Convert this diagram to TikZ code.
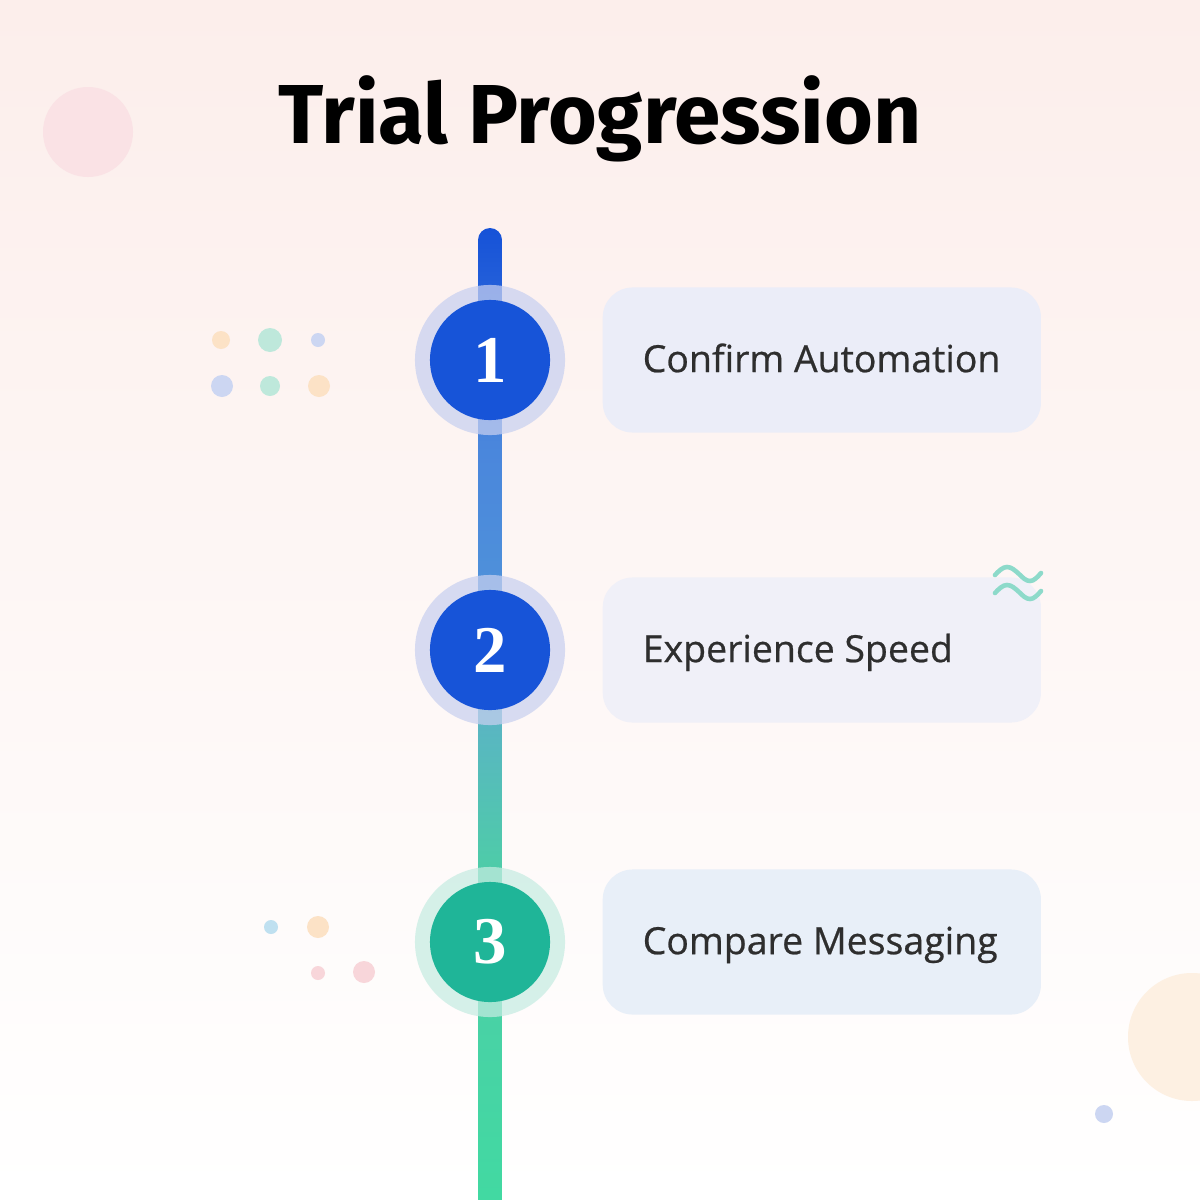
\documentclass[tikz,border=0pt]{standalone}
\usepackage{fontspec}
\newfontfamily\titlefont{Fira Sans}
\newfontfamily\cardfont{Open Sans}[FakeBold=0.6]
\newfontfamily\numfont{Liberation Serif}
\usetikzlibrary{positioning}
\definecolor{bgpink}{HTML}{FCEEEB}
\definecolor{stepblue}{HTML}{1754D8}
\definecolor{stepteal}{HTML}{1FB598}
\definecolor{haloblue}{HTML}{C8D0F0}
\definecolor{haloteal}{HTML}{C6ECE2}
\definecolor{cardA}{HTML}{EBEDF8}
\definecolor{cardB}{HTML}{F0F0F8}
\definecolor{cardC}{HTML}{E8EFF8}
\definecolor{textgray}{HTML}{2E2E2E}
\definecolor{dotpeach}{HTML}{FCE2C6}
\definecolor{dotmint}{HTML}{BEE8DB}
\definecolor{dotlav}{HTML}{CCD6F2}
\definecolor{dotblue}{HTML}{BFE0F0}
\definecolor{dotpink}{HTML}{F8D6DA}
\definecolor{wavecol}{HTML}{8DDACA}
\definecolor{trackA}{HTML}{42D9A2}
\definecolor{trackB}{HTML}{4ECCA8}
\definecolor{trackC}{HTML}{5AB4C4}
\definecolor{trackD}{HTML}{4E90DA}
\definecolor{trackE}{HTML}{4A86DC}
\definecolor{trackF}{HTML}{3470DA}
\definecolor{trackG}{HTML}{1652D8}
\pgfdeclareverticalshading{trackshade}{100bp}{color(0bp)=(trackA); color(25bp)=(trackA); color(42bp)=(trackB);
  color(50bp)=(trackC); color(57bp)=(trackD); color(64bp)=(trackE); color(68bp)=(trackF); color(75bp)=(trackG);
  color(100bp)=(trackG)}
\begin{document}
\begin{tikzpicture}[x=.01cm,y=-.01cm,
  halo/.style={circle,minimum size=1.5cm,inner sep=0pt,fill=#1,fill opacity=.72},
  stepdot/.style={circle,minimum size=1.2cm,inner sep=0pt,fill=#1,text=white,font=\numfont\bfseries\fontsize{19}{19}\selectfont},
  card/.style={anchor=west,rounded corners=.3cm,fill=#1,minimum width=4.38cm,minimum height=1.45cm,inner sep=0pt},
  cardtext/.style={anchor=west,inner sep=0pt,text height=1.9ex,text depth=.3ex,text=textgray,font=\cardfont\fontsize{10.65}{12}\selectfont},
  wave/.style={wavecol,line width=1.3pt,line cap=round}]
  \useasboundingbox (0,0) rectangle (1200,1200);
  \shade[top color=bgpink,middle color=bgpink!60!white,bottom color=white] (0,0) rectangle (1200,1200);
  % soft blobs and dots
  \fill[dotpink!70!white] (88,132) circle (45);
  \fill[dotpeach!50!white] (1192,1037) circle (64);
  \fill[dotlav] (1104,1114) circle (9);
  \fill[dotpeach] (221,340) circle (9); \fill[dotmint] (270,340) circle (12); \fill[dotlav] (318,340) circle (7);
  \fill[dotlav] (222,386) circle (11); \fill[dotmint] (270,386) circle (10); \fill[dotpeach] (319,386) circle (11);
  \fill[dotblue] (271,927) circle (7); \fill[dotpeach] (318,927) circle (11);
  \fill[dotpink] (318,973) circle (7); \fill[dotpink] (364,972) circle (11);
  \node[font=\titlefont\bfseries\fontsize{23.8}{26}\selectfont,anchor=base] (title) at (600,143) {Trial Progression};
  % track
  \coordinate (tracktop) at (490,228); \coordinate (trackend) at (490,1200);
  \shade[shading=trackshade] (478,1200) -- (478,240) arc (180:360:12) -- (502,1200) -- cycle;
  \foreach \n/\y/\c in {1/360/blue,2/650/blue,3/942/teal}{
    \node[halo=halo\c] (h\n) at (490,\y) {};
    \node[stepdot=step\c] (s\n) at (490,\y) {\n};
  }
  \node[card=cardA] (c1) at (602,360) {};
  \node[card=cardB] (c2) at (602,650) {};
  \node[card=cardC] (c3) at (602,942) {};
  \node[cardtext,right=.4cm of c1.west] (t1) {Confirm Automation};
  \node[cardtext,right=.4cm of c2.west] (t2) {Experience Speed};
  \node[cardtext,right=.4cm of c3.west] (t3) {Compare Messaging};
  \draw[wave] (995,575) sin (1007,567) cos (1019,574) sin (1030,581) cos (1041,573);
  \draw[wave] (995,593) sin (1007,585) cos (1019,592) sin (1030,599) cos (1041,591);
\end{tikzpicture}
\end{document}
